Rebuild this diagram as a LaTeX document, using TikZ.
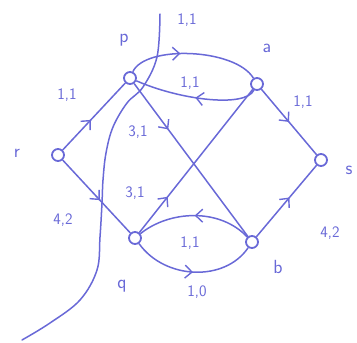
\documentclass[tikz,border=0pt]{standalone}
\usetikzlibrary{arrows.meta,decorations.markings}
\definecolor{pen}{RGB}{105,105,215}
\tikzset{
  vtx/.style={circle,draw=pen,line width=1.8pt,minimum size=12pt,inner sep=0pt},
  conn/.style={draw=pen,line width=1.5pt},
  midarrow/.style={postaction={decorate},decoration={markings,
     mark=at position #1 with {\arrow[pen,line width=1.4pt]{Straight Barb[length=7pt,width=13pt]}}}},
  lbl/.style={text=pen,font=\sffamily\fontsize{16}{18}\selectfont,inner sep=0pt},
  vname/.style={text=pen,font=\sffamily\fontsize{19}{21}\selectfont,inner sep=0pt}
}
\begin{document}
\begin{tikzpicture}[x=1pt,y=-1pt]
\useasboundingbox (0,0) rectangle (357,343);
\node[vtx] (r) at (58,155) {};
\node[vtx] (p) at (130,78) {};
\node[vtx] (a) at (257,84) {};
\node[vtx] (s) at (321,160) {};
\node[vtx] (q) at (135,238) {};
\node[vtx] (b) at (252,242) {};

\node[vname] (lr) at (17,153) {r};
\node[vname] (lp) at (124,40) {p};
\node[vname] (la) at (267,48) {a};
\node[vname] (ls) at (349,170) {s};
\node[vname] (lq) at (122,286) {q};
\node[vname] (lb) at (278,267) {b};

\path[conn,midarrow=0.45] (r) -- (p);
\path[conn,midarrow=0.55] (r) -- (q);
\path[conn,midarrow=0.3] (p) -- (b);
\path[conn,midarrow=0.25] (q) -- (a);
\path[conn,midarrow=0.5] (a) -- (s);
\path[conn,midarrow=0.55] (b) -- (s);
\path[conn,midarrow=0.4] (p) .. controls (145,45) and (235,48) .. (a);
\path[conn,midarrow=0.5] (a) .. controls (245,108) and (180,100) .. (p);
\path[conn,midarrow=0.5] (b) .. controls (220,208) and (170,210) .. (q);
\path[conn,midarrow=0.5] (q) .. controls (165,280) and (225,282) .. (b);

\node[lbl] (l1) at (67,95) {1,1};
\node[lbl] (l2) at (187,20) {1,1};
\node[lbl] (l3) at (190,83) {1,1};
\node[lbl] (l4) at (303,102) {1,1};
\node[lbl] (l5) at (138,132) {3,1};
\node[lbl] (l6) at (135,193) {3,1};
\node[lbl] (l7) at (63,220) {4,2};
\node[lbl] (l8) at (190,243) {1,1};
\node[lbl] (l9) at (197,292) {1,0};
\node[lbl] (l10) at (330,233) {4,2};

\draw[pen,line width=1.5pt,line cap=round] plot[smooth,tension=0.6] coordinates {
 (160,14) (157,57) (143,87) (127,103) (113,127) (106,153) (103,180)
 (102,203) (100,237) (97,270) (80,300) (50,323) (22,340)};
\end{tikzpicture}
\end{document}
